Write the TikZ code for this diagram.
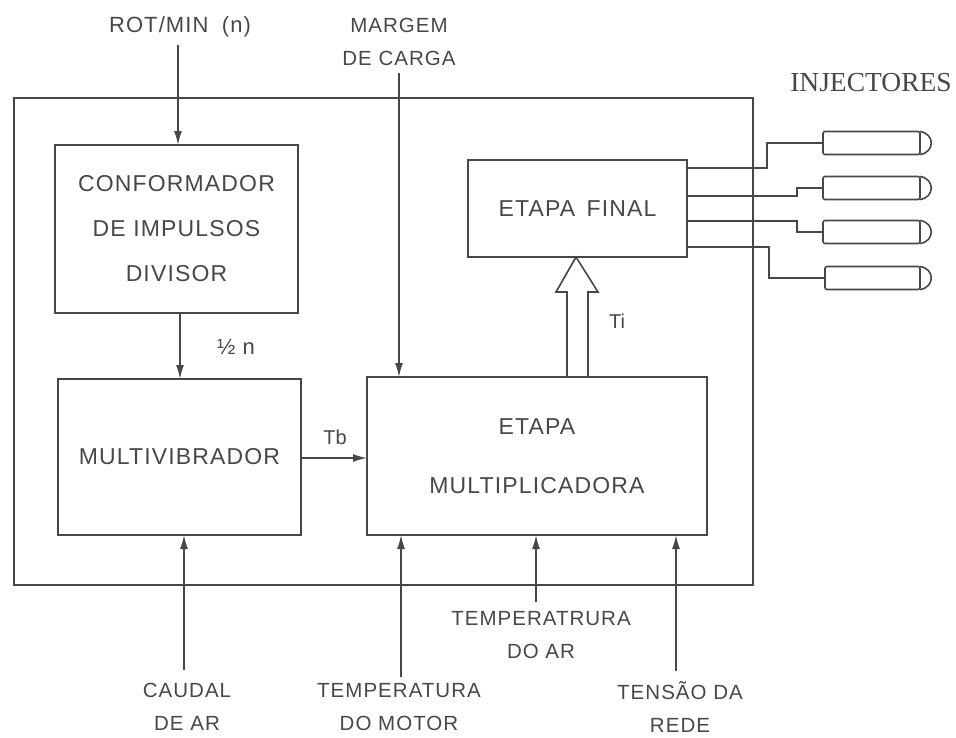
\documentclass[tikz,border=0pt]{standalone}
\usepackage{fontspec}
\setmainfont{Liberation Sans}
\newfontfamily\labelfont[LetterSpace=5]{Liberation Sans}
\newfontfamily\headfont{Liberation Serif}
\usetikzlibrary{positioning, arrows.meta, calc}
\colorlet{ink}{black!72}

\begin{document}
\begin{tikzpicture}[x=1pt, y=-1pt, >={Latex[length=14pt,width=8pt]}, node distance=66pt, color=ink, line width=1.6pt,
  block/.style={draw, rectangle, outer sep=0pt, align=center, font=\labelfont\fontsize{23}{45}\selectfont},
  tag/.style={inner sep=0pt, outer sep=0pt, align=center, font=\labelfont\fontsize{20.5}{33}\selectfont},
  injector/.style={draw, rectangle, rounded corners=2pt, outer sep=0pt, minimum width=97pt, minimum height=23pt}]
  \useasboundingbox (0,0) rectangle (956,737);
  \node[draw, line width=2.6pt, outer sep=0pt, minimum width=739pt, minimum height=487pt] (frame) at (383.5,341.5) {};
  % blocks
  \node[block, minimum width=243pt, minimum height=168pt] (conf) at (176.5,229) {CONFORMADOR\\DE IMPULSOS\\DIVISOR};
  \node[block, minimum width=243pt, minimum height=156pt, below=66pt of conf, xshift=3pt] (multi) {MULTIVIBRADOR};
  \node[block, minimum width=340pt, minimum height=158pt, right=66pt of multi, yshift=1pt, font=\labelfont\fontsize{23}{59}\selectfont] (mult) {ETAPA\\MULTIPLICADORA};
  \node[block, minimum width=219pt, minimum height=97pt, above=120pt of mult, xshift=40.5pt] (final) {ETAPA\, FINAL};
  % injectors
  \node[injector] (inj1) at (871.5,143) {};
  \node[injector] (inj2) at (871.5,188) {};
  \node[injector] (inj3) at (871.5,232) {};
  \node[injector, minimum width=95pt] (inj4) at (872.5,278) {};
  \foreach \i in {1,2,3,4}
    \draw (inj\i.north east) .. controls ($(inj\i.north east)+(15,2)$) and ($(inj\i.south east)+(15,-2)$) .. (inj\i.south east);
  \node[inner sep=0pt, font=\headfont\fontsize{27.5}{27.5}\selectfont] (head) at (871,83) {INJECTORES};
  % inputs
  \node[tag, font=\labelfont\fontsize{22}{24}\selectfont] (rot) at (180,27) {ROT/MIN\; (n)};
  \node[tag] (marg) at (399,42) {MARGEM\\DE CARGA};
  \node[tag] (caud) at (187,707) {CAUDAL\\DE AR};
  \node[tag] (motor) at (399,707) {TEMPERATURA\\DO MOTOR};
  \node[tag] (ar) at (541,635) {TEMPERATRURA\\DO AR};
  \node[tag] (rede) at (680,707) {TENSÃO DA\\REDE};
  \coordinate (a1) at ($(rot.south)+(-2,8)$);
  \coordinate (a2) at ($(marg.south)+(0,7)$);
  \coordinate (a3) at ($(caud.north)+(-3,-13)$);
  \coordinate (a4) at ($(motor.north)+(2,-6)$);
  \coordinate (a5) at ($(ar.north)+(-5,-9)$);
  \coordinate (a6) at ($(rede.north)+(-4,-11)$);
  \draw[->] (a1) -- (a1 |- conf.north);
  \draw[->] (a2) -- (a2 |- mult.north);
  \draw[->] (a3) -- (a3 |- multi.south);
  \draw[->] (a4) -- (a4 |- mult.south);
  \draw[->] (a5) -- (a5 |- mult.south);
  \draw[->] (a6) -- (a6 |- mult.south);
  % signals
  \coordinate (h) at (180,313);
  \draw[->] (h) -- (h |- multi.north);
  \node[tag, font=\labelfont\fontsize{22}{24}\selectfont] (half) at (236,347) {½ n};
  \coordinate (t1) at (multi.east |- 0,458);
  \draw[->] (t1) -- (mult.west |- t1);
  \node[tag, font=\fontsize{20}{22}\selectfont] (tb) at (335,437) {Tb};
  \node[tag, font=\fontsize{20}{22}\selectfont] (ti) at (617,321) {Ti};
  % hollow arrow
  \coordinate (tip) at (final.south -| 576,0);
  \coordinate (l) at (567,0);
  \coordinate (r) at (588,0);
  \draw[line join=miter] (l |- mult.north) -- (567,292) -- (556,292) -- (tip) -- (598,292) -- (588,292) -- (r |- mult.north);
  % wires
  \coordinate (w1) at (final.east |- 0,168);
  \coordinate (w2) at (final.east |- 0,196);
  \coordinate (w3) at (final.east |- 0,221);
  \coordinate (w4) at (final.east |- 0,247);
  \draw (w1) -| (767,168) |- (inj1.west);
  \draw (w2) -| (797,196) |- (inj2.west);
  \draw (w3) -| (797,221) |- (inj3.west);
  \draw (w4) -| (769,247) |- (inj4.west);
\end{tikzpicture}
\end{document}
